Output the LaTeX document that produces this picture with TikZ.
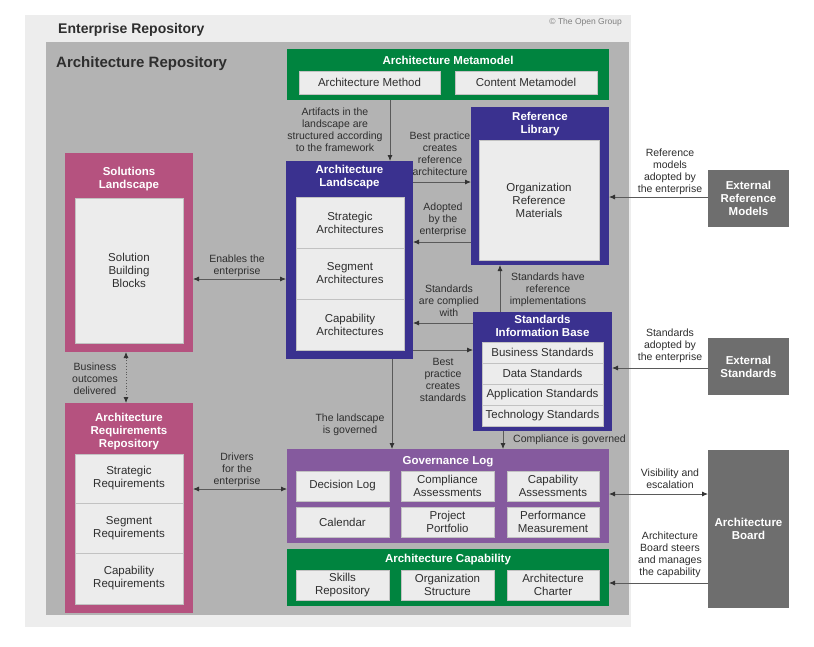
\documentclass[tikz,border=0pt]{standalone}
\usepackage{fontspec}
\setmainfont{Liberation Sans}
\usetikzlibrary{arrows.meta}

\definecolor{entgray}{HTML}{EDEDED}
\definecolor{repgray}{HTML}{B3B3B3}
\definecolor{togreen}{HTML}{00843F}
\definecolor{toblue}{HTML}{3A318F}
\definecolor{topink}{HTML}{B5527F}
\definecolor{topurple}{HTML}{855A9E}
\definecolor{extgray}{HTML}{6E6E6E}
\definecolor{cellgray}{HTML}{ECECEC}
\definecolor{cellline}{HTML}{C2C2C2}
\definecolor{txtgray}{HTML}{2E2E2E}
\definecolor{arrgray}{HTML}{5A5A5A}
\definecolor{tipgray}{HTML}{333333}

\tikzset{
  box/.style={anchor=north west, inner sep=0pt, outer sep=0pt},
  cell/.style={box, fill=cellgray, draw=cellline, line width=0.5pt, align=center,
    text=txtgray, font=\fontsize{11.5}{13}\selectfont},
  ttl/.style={inner sep=0pt, align=center, text=white, font=\bfseries\fontsize{11.5}{13}\selectfont},
  lbl/.style={inner sep=0pt, align=center, text=txtgray, font=\fontsize{10.5}{12}\selectfont},
  arr/.style={draw=arrgray, line width=0.8pt, -{Latex[length=6pt,width=5pt,color=tipgray]}},
  biarr/.style={arr, {Latex[length=6pt,width=5pt,color=tipgray]}-{Latex[length=6pt,width=5pt,color=tipgray]}}
}

\begin{document}
\begin{tikzpicture}[x=1pt,y=-1pt]
\fill[white] (0,0) rectangle (814,646);

% repositories
\node[box, fill=entgray, minimum width=606pt, minimum height=612pt] (ent) at (25,15) {};
\node[box, fill=repgray, minimum width=583pt, minimum height=573pt] (rep) at (46,42) {};
\node[anchor=west, inner sep=0pt, text=txtgray, font=\bfseries\fontsize{14}{16}\selectfont] (entT) at (58,30) {Enterprise Repository};
\node[anchor=west, inner sep=0pt, text=txtgray, font=\bfseries\fontsize{15}{17}\selectfont] (repT) at (56,64) {Architecture Repository};
\node[anchor=east, inner sep=0pt, text=gray, font=\fontsize{8.5}{10}\selectfont] (copy) at (622,22) {\textcopyright{} The Open Group};

% metamodel
\node[box, fill=togreen, minimum width=322pt, minimum height=51pt] (meta) at (287,49) {};
\node[ttl] (metaT) at (448,60) {Architecture Metamodel};
\node[cell, minimum width=141pt, minimum height=23pt] (method) at (299,71) {Architecture Method};
\node[cell, minimum width=142pt, minimum height=23pt] (content) at (455,71) {Content Metamodel};

% reference library
\node[box, fill=toblue, minimum width=138pt, minimum height=158pt] (ref) at (471,107) {};
\node[ttl] (refT) at (540,124) {Reference\\Library};
\node[cell, minimum width=120pt, minimum height=120pt] (refin) at (479,140) {Organization\\Reference\\Materials};

% architecture landscape
\node[box, fill=toblue, minimum width=127pt, minimum height=198pt] (land) at (286,161) {};
\node[ttl] (landT) at (349.5,177) {Architecture\\Landscape};
\node[cell, minimum width=108pt, minimum height=51pt] (strat) at (296,197) {Strategic\\Architectures};
\node[cell, minimum width=108pt, minimum height=51pt] (segm) at (296,248) {Segment\\Architectures};
\node[cell, minimum width=108pt, minimum height=51pt] (capa) at (296,299) {Capability\\Architectures};

% standards information base
\node[box, fill=toblue, minimum width=139pt, minimum height=119pt] (sib) at (473,312) {};
\node[ttl] (sibT) at (542.5,326) {Standards\\Information Base};
\node[cell, minimum width=121pt, minimum height=21pt] (busstd) at (482,342) {Business Standards};
\node[cell, minimum width=121pt, minimum height=21pt] (datstd) at (482,363) {Data Standards};
\node[cell, minimum width=121pt, minimum height=21pt] (appstd) at (482,384) {Application Standards};
\node[cell, minimum width=121pt, minimum height=21pt] (tecstd) at (482,405) {Technology Standards};

% solutions landscape
\node[box, fill=topink, minimum width=128pt, minimum height=199pt] (sol) at (65,153) {};
\node[ttl] (solT) at (129,179.5) {Solutions\\Landscape};
\node[cell, minimum width=108pt, minimum height=145pt] (solin) at (75,198) {Solution\\Building\\Blocks};

% requirements repository
\node[box, fill=topink, minimum width=128pt, minimum height=210pt] (req) at (65,403) {};
\node[ttl] (reqT) at (129,431.5) {Architecture\\Requirements\\Repository};
\node[cell, minimum width=108pt, minimum height=49pt] (sreq) at (75,454) {Strategic\\Requirements};
\node[cell, minimum width=108pt, minimum height=50pt] (greq) at (75,503) {Segment\\Requirements};
\node[cell, minimum width=108pt, minimum height=51pt] (creq) at (75,553) {Capability\\Requirements};

% governance log
\node[box, fill=topurple, minimum width=322pt, minimum height=94pt] (gov) at (287,449) {};
\node[ttl] (govT) at (448,462) {Governance Log};
\node[cell, minimum width=93pt, minimum height=30pt] (declog) at (296,471) {Decision Log};
\node[cell, minimum width=93pt, minimum height=30pt] (compass) at (401,471) {Compliance\\Assessments};
\node[cell, minimum width=92pt, minimum height=30pt] (capass) at (507,471) {Capability\\Assessments};
\node[cell, minimum width=93pt, minimum height=30pt] (cal) at (296,507) {Calendar};
\node[cell, minimum width=93pt, minimum height=30pt] (portf) at (401,507) {Project\\Portfolio};
\node[cell, minimum width=92pt, minimum height=30pt] (perf) at (507,507) {Performance\\Measurement};

% architecture capability
\node[box, fill=togreen, minimum width=322pt, minimum height=57pt] (cap) at (287,549) {};
\node[ttl] (capT) at (448,560) {Architecture Capability};
\node[cell, minimum width=93pt, minimum height=30pt] (skills) at (296,570) {Skills\\Repository};
\node[cell, minimum width=93pt, minimum height=30pt] (orgstr) at (401,570) {Organization\\Structure};
\node[cell, minimum width=92pt, minimum height=30pt] (charter) at (507,570) {Architecture\\Charter};

% external
\node[box, fill=extgray, minimum width=81pt, minimum height=57pt, ttl] (extref) at (708,170) {External\\Reference\\Models};
\node[box, fill=extgray, minimum width=81pt, minimum height=57pt, ttl] (extstd) at (708,338) {External\\Standards};
\node[box, fill=extgray, minimum width=81pt, minimum height=158pt, ttl] (board) at (708,450) {Architecture\\Board};

% connectors
\draw[arr] (390,0 |- meta.south) -- (390,0 |- land.north);
\node[lbl] (l1) at (335,130) {Artifacts in the\\landscape are\\structured according\\to the framework};
\draw[arr] (land.east |- 0,182) -- (ref.west |- 0,182);
\node[lbl] (l2) at (440,154) {Best practice\\creates\\reference\\architecture};
\draw[arr] (ref.west |- 0,242) -- (land.east |- 0,242);
\node[lbl] (l3) at (443,219.5) {Adopted\\by the\\enterprise};
\draw[arr] (extref.west |- 0,197) -- (ref.east |- 0,197);
\node[lbl] (l4) at (670,172) {Reference\\models\\adopted by\\the enterprise};
\draw[arr] (500,0 |- sib.north) -- (500,0 |- ref.south);
\node[lbl] (l5) at (548,290) {Standards have\\reference\\implementations};
\draw[arr] (sib.west |- 0,323) -- (land.east |- 0,323);
\node[lbl] (l6) at (449,301) {Standards\\are complied\\with};
\draw[arr] (land.east |- 0,350) -- (sib.west |- 0,350);
\node[lbl] (l7) at (443,380) {Best\\practice\\creates\\standards};
\draw[arr] (392,0 |- land.south) -- (392,0 |- gov.north);
\node[lbl] (l8) at (350,425) {The landscape\\is governed};
\draw[arr] (503,0 |- sib.south) -- (503,0 |- gov.north);
\node[lbl, anchor=west] (l9) at (513,440) {Compliance is governed};
\draw[biarr] (sol.east |- 0,279) -- (land.west |- 0,279);
\node[lbl] (l10) at (237,266) {Enables the\\enterprise};
\draw[biarr, dotted] (126,0 |- sol.south) -- (126,0 |- req.north);
\node[lbl] (l11) at (95,379) {Business\\outcomes\\delivered};
\draw[biarr] (req.east |- 0,489) -- (gov.west |- 0,489);
\node[lbl] (l12) at (237,470) {Drivers\\for the\\enterprise};
\draw[biarr] (gov.east |- 0,494) -- (board.west |- 0,494);
\node[lbl] (l13) at (670,479) {Visibility and\\escalation};
\draw[arr] (board.west |- 0,583) -- (cap.east |- 0,583);
\node[lbl] (l14) at (670,555) {Architecture\\Board steers\\and manages\\the capability};
\draw[arr] (extstd.west |- 0,368) -- (sib.east |- 0,368);
\node[lbl] (l15) at (670,346) {Standards\\adopted by\\the enterprise};
\end{tikzpicture}
\end{document}
